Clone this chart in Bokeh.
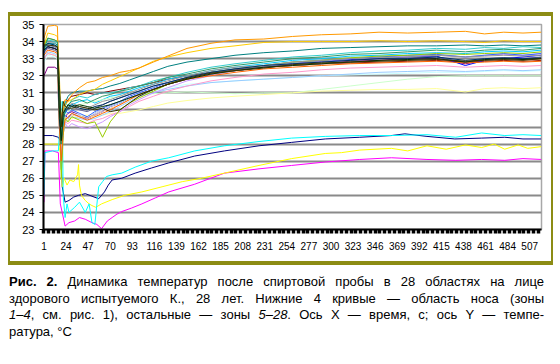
from bokeh.plotting import figure
from bokeh.models import FixedTicker, Div, Range1d
from bokeh.layouts import column, row
from bokeh.embed import file_html
from bokeh.resources import INLINE

# ---------------- data ----------------
y_ticks = [23, 24, 25, 26, 27, 28, 29, 30, 31, 32, 33, 34, 35]
x_labels = [1, 24, 47, 70, 93, 116, 139, 162, 185, 208, 231, 254, 277, 300,
            323, 346, 369, 392, 415, 438, 461, 484, 507]

# nose zones 1-4 (own time points)
t1 = [1, 10, 16, 18, 20, 23, 27, 32, 37, 44, 51, 58, 64, 68, 72, 82, 96, 113, 131, 158,
      189, 225, 259, 294, 330, 363, 377, 400, 429, 457, 481, 500, 519]
zone1 = [28.5, 28.5, 28.4, 28.2, 25.5, 24.6, 24.7, 24.9, 25.0, 25.1, 24.95, 24.8, 25.2, 25.6, 25.9,
         26.0, 26.3, 26.6, 26.9, 27.3, 27.6, 27.9, 28.1, 28.3, 28.4, 28.5, 28.6, 28.45, 28.3, 28.35,
         28.4, 28.3, 28.3]
t2 = [1, 2, 10, 16, 18, 20, 23, 27, 33, 38, 44, 51, 56, 61, 67, 72, 77, 82, 92, 103, 117, 131,
      158, 189, 225, 259, 294, 330, 363, 400, 430, 457, 481, 500, 519]
zone2 = [24.6, 27.6, 27.6, 27.5, 24.5, 24.0, 23.2, 23.4, 23.5, 23.7, 23.6, 23.4, 23.3, 23.05, 23.5,
         23.7, 23.9, 24.05, 24.25, 24.5, 24.85, 25.2, 25.65, 26.3, 26.55, 26.75, 26.95, 27.1, 27.2,
         27.1, 27.05, 27.1, 27.05, 27.15, 27.1]
t3 = [1, 10, 16, 18, 20, 22, 25, 28, 32, 36, 37, 38, 40, 44, 48, 51, 55, 61, 72, 85, 103, 124,
      145, 165, 189, 225, 259, 294, 311, 330, 363, 380, 400, 420, 440, 457, 470, 481, 495, 505, 519]
zone3 = [28.0, 28.0, 28.0, 27.5, 25.5, 26.0, 25.6, 25.9, 25.8, 26.2, 26.8, 25.6, 25.0, 24.7, 24.5,
         24.4, 24.3, 24.5, 24.75, 25.0, 25.2, 25.5, 25.8, 26.0, 26.3, 26.75, 27.15, 27.45, 27.5,
         27.65, 27.75, 27.6, 27.9, 27.7, 27.95, 27.8, 28.0, 27.7, 27.95, 27.75, 27.85]
t4 = [1, 2, 10, 16, 18, 19, 20, 21, 23, 25, 27, 33, 38, 44, 48, 51, 54, 58, 62, 66, 72, 82, 96,
      113, 131, 158, 189, 225, 259, 294, 330, 363, 400, 430, 457, 481, 500, 519]
zone4 = [25.0, 27.5, 27.6, 27.6, 29.5, 27.0, 30.5, 25.0, 23.7, 24.5, 24.0, 24.3, 24.6, 24.0, 24.5,
         23.4, 23.3, 25.5, 25.8, 26.1, 26.2, 26.3, 26.65, 27.0, 27.2, 27.6, 27.9, 28.15, 28.35,
         28.45, 28.5, 28.5, 28.55, 28.4, 28.65, 28.5, 28.55, 28.5]

# zones 5-28 share these time points
t_main = [1, 5, 12, 15, 17, 19, 21, 23, 26, 30, 38, 46, 54, 62, 70, 80, 90, 100, 115, 130,
          150, 175, 200, 230, 260, 290, 320, 350, 380, 410, 440, 460, 480, 500, 519]
zone5 = [32.0, 32.5, 32.5, 32.4, 29.0, 27.5, 29.0, 29.6, 29.8, 29.9, 29.7, 29.5, 29.8, 30.0, 30.2,
         30.4, 30.7, 30.9, 31.2, 31.5, 31.8, 32.1, 32.3, 32.5, 32.6, 32.7, 32.85, 32.9, 33.0, 33.0,
         32.7, 32.9, 33.0, 32.95, 33.0]
zone6 = [33.4, 33.7, 33.6, 33.5, 30.5, 28.5, 29.6, 30.3, 30.6, 30.8, 30.9, 31.0, 30.9, 31.0, 31.1,
         31.2, 31.3, 31.4, 31.6, 31.8, 32.0, 32.2, 32.35, 32.5, 32.6, 32.7, 32.75, 32.8, 32.85, 32.9,
         32.8, 32.85, 32.9, 32.85, 32.9]
zone7 = [33.6, 33.9, 33.9, 33.8, 30.5, 28.5, 29.8, 30.4, 30.8, 31.0, 31.1, 31.1, 31.2, 31.25, 31.4,
         31.55, 31.75, 31.95, 32.25, 32.55, 32.8, 33.0, 33.2, 33.35, 33.45, 33.6, 33.65, 33.7, 33.75,
         33.75, 33.8, 33.75, 33.8, 33.75, 33.8]
zone8 = [33.5, 33.7, 33.6, 33.5, 29.8, 27.8, 29.2, 29.7, 29.5, 29.8, 29.6, 29.5, 29.7, 29.9, 30.2,
         30.4, 30.7, 30.9, 31.2, 31.5, 31.8, 32.1, 32.3, 32.5, 32.7, 32.85, 32.95, 33.0, 33.1, 33.15,
         32.6, 32.9, 33.0, 33.1, 33.2]
zone9 = [33.4, 33.9, 33.8, 33.7, 30.0, 27.5, 28.8, 29.8, 30.1, 30.3, 30.5, 30.6, 30.4, 30.6, 30.8,
         30.9, 31.1, 31.3, 31.5, 31.8, 32.0, 32.3, 32.5, 32.7, 32.9, 33.0, 33.15, 33.2, 33.3, 33.35,
         33.3, 33.4, 33.45, 33.4, 33.5]
zone10 = [32.8, 33.2, 33.1, 33.0, 29.0, 28.0, 29.0, 29.5, 29.6, 29.8, 29.7, 29.6, 29.8, 30.0, 30.2,
          30.4, 30.7, 30.9, 31.1, 31.3, 31.5, 31.6, 31.7, 31.8, 31.9, 32.0, 32.05, 32.1, 32.15, 32.2,
          32.2, 32.25, 32.3, 32.25, 32.3]
zone11 = [33.0, 33.3, 33.2, 33.1, 29.0, 28.2, 29.2, 29.7, 29.9, 30.1, 30.3, 30.4, 30.5, 30.6, 30.7,
          30.8, 31.0, 31.0, 30.95, 31.0, 31.05, 31.0, 30.95, 31.0, 31.0, 31.2, 31.4, 31.6, 31.8, 31.95,
          32.0, 32.0, 32.0, 32.0, 32.0]
zone12 = [33.0, 33.3, 33.2, 33.1, 29.5, 27.8, 28.8, 29.2, 29.4, 29.5, 29.6, 29.7, 29.6, 29.7, 29.8,
          29.8, 29.9, 30.0, 30.2, 30.4, 30.55, 30.7, 30.8, 30.9, 31.0, 31.1, 31.15, 31.2, 31.2, 31.25,
          31.05, 31.25, 31.3, 31.25, 31.3]
zone13 = [33.0, 33.4, 33.3, 33.2, 29.8, 27.2, 28.6, 29.2, 29.4, 29.6, 29.5, 29.4, 29.5, 29.7, 29.9,
          30.2, 30.5, 30.8, 31.0, 31.2, 31.4, 31.6, 31.7, 31.8, 31.9, 32.0, 32.1, 32.2, 32.25, 32.3,
          32.25, 32.3, 32.35, 32.3, 32.35]
zone14 = [33.0, 33.3, 33.2, 33.1, 29.5, 27.5, 28.9, 29.3, 29.2, 29.4, 29.3, 29.2, 29.4, 29.5, 29.7,
          29.9, 30.2, 30.5, 30.8, 31.1, 31.4, 31.7, 31.9, 32.1, 32.2, 32.35, 32.45, 32.5, 32.55, 32.6,
          32.5, 32.55, 32.6, 32.55, 32.6]
zone15 = [33.3, 33.6, 33.5, 33.4, 30.0, 27.0, 28.6, 29.2, 29.0, 29.2, 29.0, 28.9, 29.1, 29.3, 29.6,
          29.9, 30.3, 30.6, 31.0, 31.3, 31.7, 32.0, 32.3, 32.5, 32.7, 32.85, 33.0, 33.1, 33.15, 33.2,
          33.1, 33.2, 33.25, 33.2, 33.3]
zone16 = [33.3, 33.6, 33.5, 33.4, 30.0, 28.0, 29.2, 29.6, 29.5, 29.7, 29.6, 29.5, 29.7, 29.9, 30.1,
          30.3, 30.6, 30.9, 31.2, 31.5, 31.8, 32.1, 32.3, 32.5, 32.6, 32.7, 32.8, 32.85, 32.9, 32.95,
          32.85, 32.9, 32.95, 32.9, 32.95]
zone17 = [33.3, 33.8, 33.7, 33.6, 30.8, 28.8, 29.5, 30.0, 29.8, 30.0, 29.8, 29.6, 29.9, 30.1, 30.3,
          30.5, 30.8, 31.0, 31.3, 31.6, 31.9, 32.2, 32.4, 32.6, 32.8, 32.9, 33.0, 33.1, 33.2, 33.25,
          33.1, 33.2, 33.3, 33.2, 33.3]
zone18 = [33.7, 34.1, 34.0, 33.9, 29.5, 26.5, 29.0, 30.5, 30.2, 30.6, 30.8, 30.7, 30.9, 31.0, 31.0,
          31.1, 31.3, 31.4, 31.7, 31.9, 32.2, 32.5, 32.7, 32.9, 33.1, 33.2, 33.35, 33.45, 33.5, 33.6,
          33.55, 33.65, 33.6, 33.7, 33.65]
zone19 = [33.8, 34.2, 34.1, 34.0, 30.5, 26.0, 28.5, 29.5, 29.3, 29.6, 29.4, 29.2, 29.3, 28.4, 29.3,
          30.0, 30.4, 30.7, 31.1, 31.5, 31.9, 32.2, 32.4, 32.6, 32.8, 32.9, 33.05, 33.15, 33.2, 33.3,
          33.25, 33.3, 33.35, 33.3, 33.4]
zone20 = [33.8, 34.5, 34.4, 34.3, 32.0, 29.0, 30.0, 30.3, 30.5, 30.6, 30.9, 31.1, 31.2, 31.5, 31.7,
          31.95, 32.2, 32.45, 32.85, 33.1, 33.35, 33.6, 33.75, 33.95, 34.0, 34.0, 34.0, 34.05, 34.0,
          34.05, 34.0, 33.95, 34.05, 34.0, 34.0]
zone21 = [34.2, 34.9, 34.95, 34.9, 31.0, 29.5, 30.2, 30.6, 30.5, 30.9, 31.3, 31.6, 31.7, 31.9, 32.0,
          32.2, 32.3, 32.45, 32.8, 33.15, 33.6, 33.9, 34.1, 34.15, 34.3, 34.4, 34.45, 34.55, 34.5,
          34.55, 34.6, 34.45, 34.55, 34.5, 34.55]
zone22 = [33.2, 33.5, 33.4, 33.3, 29.0, 27.0, 28.8, 29.4, 29.6, 29.8, 29.6, 29.4, 29.6, 29.8, 30.0,
          30.3, 30.6, 30.9, 31.2, 31.5, 31.8, 32.0, 32.2, 32.4, 32.5, 32.6, 32.7, 32.75, 32.8, 32.85,
          32.75, 32.8, 32.85, 32.8, 32.85]
zone23 = [33.4, 33.6, 33.5, 33.4, 31.0, 29.2, 29.8, 30.1, 30.0, 30.2, 30.0, 29.9, 30.1, 30.3, 30.5,
          30.7, 30.9, 31.1, 31.4, 31.6, 31.9, 32.2, 32.4, 32.5, 32.7, 32.8, 32.9, 33.0, 33.05, 33.1,
          32.8, 33.0, 33.05, 33.0, 33.1]
zone24 = [33.6, 33.8, 33.7, 33.6, 30.2, 28.4, 29.6, 30.0, 30.2, 30.4, 30.2, 30.1, 30.3, 30.5, 30.6,
          30.8, 31.0, 31.2, 31.5, 31.7, 32.0, 32.3, 32.5, 32.6, 32.8, 32.9, 33.0, 33.05, 33.1, 33.2,
          33.1, 33.15, 33.2, 33.15, 33.2]
zone25 = [33.7, 33.9, 33.8, 33.7, 29.5, 28.0, 29.4, 29.9, 30.1, 30.3, 30.1, 30.0, 30.2, 30.3, 30.5,
          30.7, 30.9, 31.1, 31.4, 31.6, 31.9, 32.2, 32.4, 32.6, 32.7, 32.8, 32.9, 33.0, 33.0, 33.1,
          32.9, 33.0, 33.05, 33.0, 33.05]
zone26 = [33.5, 34.2, 34.1, 34.0, 31.5, 28.0, 29.5, 30.0, 30.3, 30.5, 30.6, 30.4, 30.6, 30.8, 30.9,
          31.1, 31.2, 31.4, 31.6, 31.9, 32.1, 32.4, 32.6, 32.8, 33.0, 33.1, 33.25, 33.3, 33.4, 33.5,
          33.4, 33.5, 33.55, 33.5, 33.6]
zone27 = [33.5, 33.7, 33.6, 33.5, 30.0, 28.2, 29.8, 30.0, 30.3, 30.2, 30.3, 30.2, 30.1, 30.2, 30.3,
          30.5, 30.7, 30.9, 31.2, 31.5, 31.8, 32.1, 32.3, 32.5, 32.6, 32.7, 32.8, 32.9, 32.95, 33.0,
          32.8, 32.95, 33.0, 32.95, 33.0]
zone28 = [33.8, 33.8, 33.75, 33.7, 31.5, 29.0, 30.5, 30.2, 30.1, 30.1, 30.2, 30.1, 30.0, 30.1, 29.9,
          30.0, 30.4, 30.8, 31.2, 31.5, 31.85, 32.15, 32.3, 32.45, 32.65, 32.75, 32.8, 32.85, 32.9,
          32.95, 32.85, 32.9, 32.95, 32.9, 33.0]

# ---------------- styles ----------------
nose = [(t1, zone1, "#000080"), (t2, zone2, "#FF00FF"), (t3, zone3, "#FFFF00"), (t4, zone4, "#00FFFF")]
main_series = [zone5, zone6, zone7, zone8, zone9, zone10, zone11, zone12, zone13, zone14,
               zone15, zone16, zone17, zone18, zone19, zone20, zone21, zone22, zone23, zone24,
               zone25, zone26, zone27, zone28]
main_colors = ["#800080", "#800000", "#008080", "#0000FF", "#00CCFF", "#CCFFFF", "#CCFFCC",
               "#FFFF99", "#99CCFF", "#FF99CC", "#CC99FF", "#FFCC99", "#3366FF", "#33CCCC",
               "#99CC00", "#FFCC00", "#FF9900", "#FF6600", "#666699", "#969696", "#003366",
               "#339966", "#003300", "#333300"]

FONT = "Liberation Sans"
OLIVE = "#8c8c14"

p = figure(width=541, height=247, x_range=Range1d(0.5, 519.3), y_range=Range1d(23, 35),
           output_backend="svg", toolbar_location=None,
           min_border_left=33, min_border_right=10, min_border_top=10, min_border_bottom=32,
           margin=(0, 0, 0, 0))
p.background_fill_color = "white"
p.border_fill_color = "white"
p.outline_line_color = "#a8a8a8"
p.outline_line_width = 1.5

p.xgrid.visible = False
p.ygrid.ticker = FixedTicker(ticks=y_ticks)
p.ygrid.grid_line_color = "#8a8a8a"
p.ygrid.grid_line_width = 2

p.yaxis.ticker = FixedTicker(ticks=y_ticks)
p.yaxis.axis_line_color = "black"
p.yaxis.axis_line_width = 2
p.yaxis.major_tick_in = 0
p.yaxis.major_tick_out = 4
p.yaxis.major_tick_line_width = 1
p.yaxis.minor_tick_line_color = None
p.yaxis.major_label_standoff = 5
p.yaxis.major_label_text_font = FONT
p.yaxis.major_label_text_font_size = "11px"
p.yaxis.major_label_text_color = "black"

p.xaxis.ticker = FixedTicker(ticks=x_labels, minor_ticks=list(range(1, 520, 5)))
p.xaxis.axis_line_color = "black"
p.xaxis.axis_line_width = 2
p.xaxis.major_tick_in = 0
p.xaxis.major_tick_out = 4
p.xaxis.major_tick_line_color = None
p.xaxis.minor_tick_in = 0
p.xaxis.minor_tick_out = 4
p.xaxis.minor_tick_line_width = 3.5
p.xaxis.minor_tick_line_color = "black"
p.xaxis.major_label_standoff = 8
p.xaxis.major_label_text_font = FONT
p.xaxis.major_label_text_font_size = "10px"
p.xaxis.major_label_text_color = "black"

for t, ys, c in nose:
    p.line(t, ys, line_color=c, line_width=1)
for ys, c in zip(main_series, main_colors):
    p.line(t_main, ys, line_color=c, line_width=1)


def bar(w, h, margin):
    return Div(text=(f"<div style='display:block;width:{w}px;height:{h}px;"
                     f"background-color:{OLIVE};position:relative;z-index:50;'></div>"),
               width=w, height=h, margin=margin,
               styles={"background-color": OLIVE, "position": "relative", "z-index": "50",
                       "overflow": "visible", "padding": "0", "line-height": "0"})


top_bar = bar(545, 2, (12, 0, 0, 8))
left_bar = bar(2, 247, (0, 0, 0, 8))
right_bar = bar(2, 247, (0, 0, 0, 0))
bottom_bar = bar(545, 2, (0, 0, 0, 8))

caption_lines = [
    "<b>Рис. 2.</b> Динамика температур после спиртовой пробы в 28 областях на лице",
    "здорового испытуемого К., 28 лет. Нижние 4 кривые — область носа (зоны",
    "<i>1–4</i>, см. рис. 1), остальные — зоны <i>5–28</i>. Ось X — время, с; ось Y — темпе-",
    "ратура, °C",
]
jl = "text-align:justify;text-align-last:justify;"
inner = "".join(
    f"<div style='{jl if i < len(caption_lines) - 1 else ''}'>{ln}</div>"
    for i, ln in enumerate(caption_lines))
html = (f"<div style='font-family:\"{FONT}\",Arial,sans-serif;font-size:13px;"
        f"line-height:16.5px;color:#000;padding-top:11px;padding-left:9px;width:544px;'>"
        f"{inner}</div>")
caption = Div(text=html, width=553, height=86, margin=(0, 0, 0, 0))

layout = column(top_bar, row(left_bar, p, right_bar, spacing=0), bottom_bar, caption, spacing=0)
open("out.html", "w").write(file_html(layout, INLINE))
